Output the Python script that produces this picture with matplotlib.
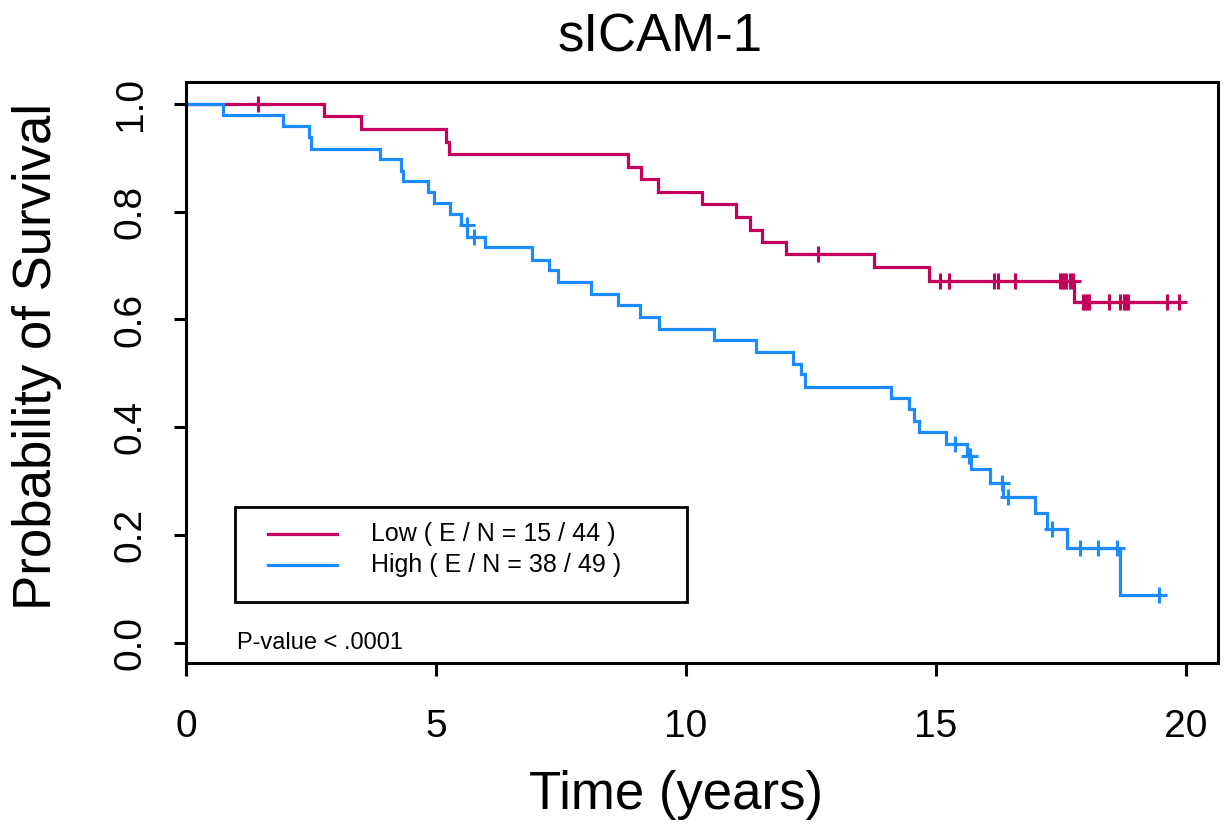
import numpy as np
import matplotlib
matplotlib.use("Agg")
import matplotlib.pyplot as plt
from matplotlib.patches import Rectangle

plt.rcParams['font.family'] = ['Liberation Sans', 'DejaVu Sans']

# Kaplan-Meier step values
low_times = [0, 2.75, 3.50, 5.21, 5.27, 8.83, 9.09, 9.43, 10.33, 11.01, 11.28,
             11.53, 12.00, 13.76, 14.86, 17.75]
low_surv = [1.0, 0.977, 0.953, 0.930, 0.907, 0.884, 0.860, 0.837, 0.814, 0.791,
            0.767, 0.744, 0.721, 0.697, 0.672, 0.632]
low_censor = [1.43, 12.63, 15.08, 15.26, 16.16, 16.25, 16.58, 17.48, 17.52,
              17.56, 17.60, 17.68, 17.74, 17.94, 17.98, 18.02, 18.06, 18.47,
              18.67, 18.76, 18.80, 18.84, 19.63, 19.86]

high_times = [0, 0.73, 1.93, 2.46, 2.49, 3.87, 4.31, 4.33, 4.83, 4.96, 5.28,
              5.51, 5.63, 5.99, 6.91, 7.25, 7.43, 8.10, 8.63, 9.08, 9.46, 10.56,
              11.39, 12.13, 12.31, 12.38, 14.10, 14.46, 14.57, 14.66, 15.20,
              15.63, 15.71, 16.08, 16.34, 16.99, 17.21, 17.63, 18.67]
high_surv = [1.0, 0.979, 0.959, 0.938, 0.917, 0.898, 0.876, 0.857, 0.837, 0.816,
             0.796, 0.775, 0.754, 0.734, 0.711, 0.691, 0.669, 0.648, 0.626,
             0.604, 0.583, 0.561, 0.540, 0.518, 0.498, 0.475, 0.454, 0.433,
             0.411, 0.391, 0.368, 0.346, 0.322, 0.297, 0.271, 0.240, 0.211,
             0.175, 0.089]
high_censor = [5.62, 5.76, 15.39, 15.66, 15.69, 16.32, 16.45, 17.33, 17.88,
               18.23, 18.63, 19.47]

groups = ["Low", "High"]
events = [15, 38]
totals = [44, 49]
colors = ["#C4005C", "#1A8CFF"]

fig = plt.figure(figsize=(12.3, 8.32), dpi=100)
ax = fig.add_axes([186/1230, 1 - 663/832, 1032/1230, 581/832])


def draw_km(times, surv, censor, color):
    t = np.array(times + [max(censor)])
    s = np.array(surv + [surv[-1]])
    ax.step(t, s, where='post', color=color, lw=2.3, solid_joinstyle='miter')
    idx = np.searchsorted(times, censor, side='right') - 1
    ax.plot(censor, np.array(surv)[idx], '+', color=color, ms=12, mew=2.2)


draw_km(low_times, low_surv, low_censor, colors[0])
draw_km(high_times, high_surv, high_censor, colors[1])

ax.set_xlim(0, 20.64)
ax.set_ylim(-0.038, 1.041)
ax.set_xticks([0, 5, 10, 15, 20])
ax.set_yticks([0.0, 0.2, 0.4, 0.6, 0.8, 1.0])
ax.set_yticklabels(["0.0", "0.2", "0.4", "0.6", "0.8", "1.0"])
for s in ax.spines.values():
    s.set_linewidth(2.2)
ax.tick_params(axis='x', direction='out', length=9, width=2.2, labelsize=28, pad=24)
ax.tick_params(axis='y', direction='out', length=9, width=2.2, labelsize=28, pad=18)
for lab in ax.get_yticklabels():
    lab.set_rotation(90)
    lab.set_va('center')

# legend box drawn by hand
ax.add_patch(Rectangle((0.0475, 0.105), 0.438, 0.1635, transform=ax.transAxes,
                       fill=False, lw=2.0, ec='black'))
leg_y = [0.222, 0.1687]
for g, e, n, c, y in zip(groups, events, totals, colors, leg_y):
    ax.plot([0.0795, 0.1463], [y, y], color=c, lw=2.3, transform=ax.transAxes)
    ax.text(0.179, y, "%s ( E / N = %d / %d )" % (g, e, n), transform=ax.transAxes,
            fontsize=18, va='center', ha='left')

ax.text(0.0494, 0.034, "P-value < .0001", transform=ax.transAxes,
        fontsize=17, va='center', ha='left')

fig.text(660/1230, 1 - 38/832, "sICAM-1", fontsize=38, ha='center', va='center')
fig.text(676/1230, 1 - 795/832, "Time (years)", fontsize=38, ha='center', va='center')
fig.text(37/1230, 1 - 356/832, "Probability of Survival", fontsize=38,
         ha='center', va='center', rotation=90)

fig.savefig("out.png", dpi=100)
